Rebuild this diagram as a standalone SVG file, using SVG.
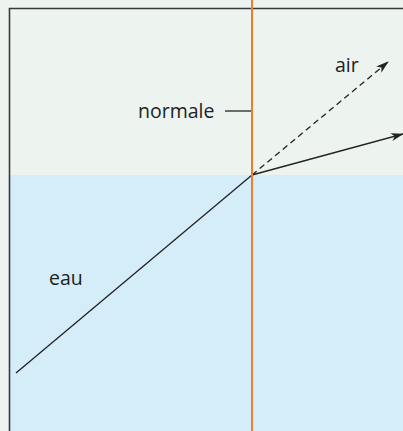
<svg xmlns="http://www.w3.org/2000/svg" width="403" height="431" viewBox="0 0 403 431">
<style>
.ray{stroke:#222;stroke-width:1.3;fill:none}
.lbl{font-family:"Open Sans","Liberation Sans",sans-serif;font-size:19.5px;fill:#222}
</style>
<defs>
<marker id="ah" viewBox="0 0 13 8" refX="12" refY="4" markerWidth="13" markerHeight="8" markerUnits="userSpaceOnUse" orient="auto">
<path d="M0,0 L13,4 L0,8 L3.5,4 Z" fill="#222"/>
</marker>
</defs>
<rect id="background" x="0" y="0" width="403" height="431" fill="#edf3ef"/>
<g id="water"><rect x="10" y="175" width="393" height="256" fill="#d5ecf9"/></g>
<g id="frame"><path d="M9.5,431 V8.5 H403" fill="none" stroke="#3a3a3a" stroke-width="1.6"/></g>
<g id="connectors">
<line class="ray" x1="16" y1="373" x2="252" y2="175"/>
<line class="ray" x1="252" y1="175" x2="403" y2="134" marker-end="url(#ah)"/>
<line class="ray" x1="252" y1="175" x2="388" y2="62" stroke-dasharray="6,4" marker-end="url(#ah)"/>
<line class="ray" x1="225" y1="111" x2="251" y2="111"/>
</g>
<g id="normal"><line x1="252" y1="0" x2="252" y2="431" stroke="#f47b2a" stroke-width="2"/></g>
<g id="label-normale"><text class="lbl" x="138" y="118">normale</text></g>
<g id="label-air"><text class="lbl" x="335" y="72">air</text></g>
<g id="label-eau"><text class="lbl" x="49" y="285">eau</text></g>
</svg>
